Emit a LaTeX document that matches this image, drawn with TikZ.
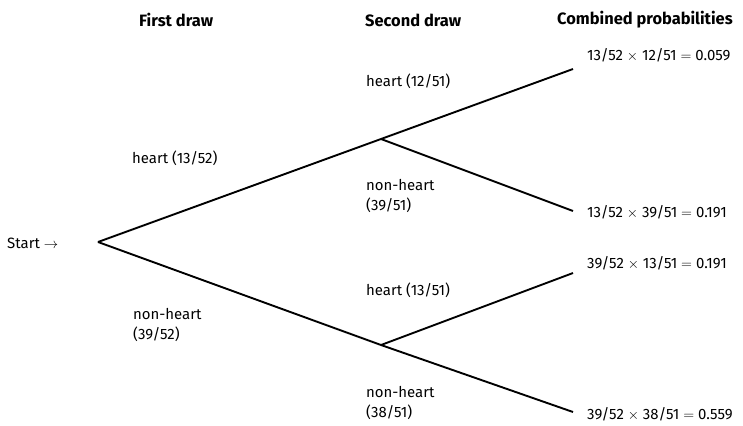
\documentclass[tikz,border=0pt]{standalone}
\usepackage{fontspec}
\setmainfont{Fira Sans}
\begin{document}
\begin{tikzpicture}[x=1bp,y=-1bp,
        branch/.style={black, line width=1.9pt},
        lbl/.style={anchor=west, inner sep=0pt, align=left, font=\fontsize{15}{20}\selectfont},
        head/.style={anchor=west, inner sep=0pt, font=\fontsize{16.5}{18}\selectfont\bfseries}]
        \useasboundingbox (0,0) rectangle (743,425);
        % Headings
        \node[head] (first) at (139,20) {First draw};
        \node[head] (second) at (365,20) {Second draw};
        \node[head] (combined) at (557,20) {Combined probabilities};
        % Branch points
        \coordinate (start) at (98,242);
        \coordinate (h1) at (381,139);
        \coordinate (n1) at (381,345);
        \foreach \name/\y in {hh/69,hn/211,nh/273,nn/412} {
            \coordinate (\name) at (573,\y);
        }
        \draw[branch] (start) -- (h1) -- (hh);
        \draw[branch] (h1) -- (hn);
        \draw[branch] (start) -- (n1) -- (nn);
        \draw[branch] (n1) -- (nh);
        % Branch labels
        \node[lbl] (startlbl) at (7,243) {Start $\rightarrow$};
        \node[lbl] (lh1) at (132,158) {heart (13/52)};
        \node[lbl] (ln1) at (133,325) {non-heart\\(39/52)};
        \node[lbl] (lhh) at (366,81) {heart (12/51)};
        \node[lbl] (lhn) at (366,196) {non-heart\\(39/51)};
        \node[lbl] (lnh) at (366,290) {heart (13/51)};
        \node[lbl] (lnn) at (366,403) {non-heart\\(38/51)};
        % Combined probabilities
        \foreach \name/\y/\txt in {rhh/55/{13/52 $\times$ 12/51 $=$ 0.059},
                                   rhn/212/{13/52 $\times$ 39/51 $=$ 0.191},
                                   rnh/263/{39/52 $\times$ 13/51 $=$ 0.191},
                                   rnn/414/{39/52 $\times$ 38/51 $=$ 0.559}} {
            \node[lbl] (\name) at (587,\y) {\txt};
        }
    \end{tikzpicture}
\end{document}
